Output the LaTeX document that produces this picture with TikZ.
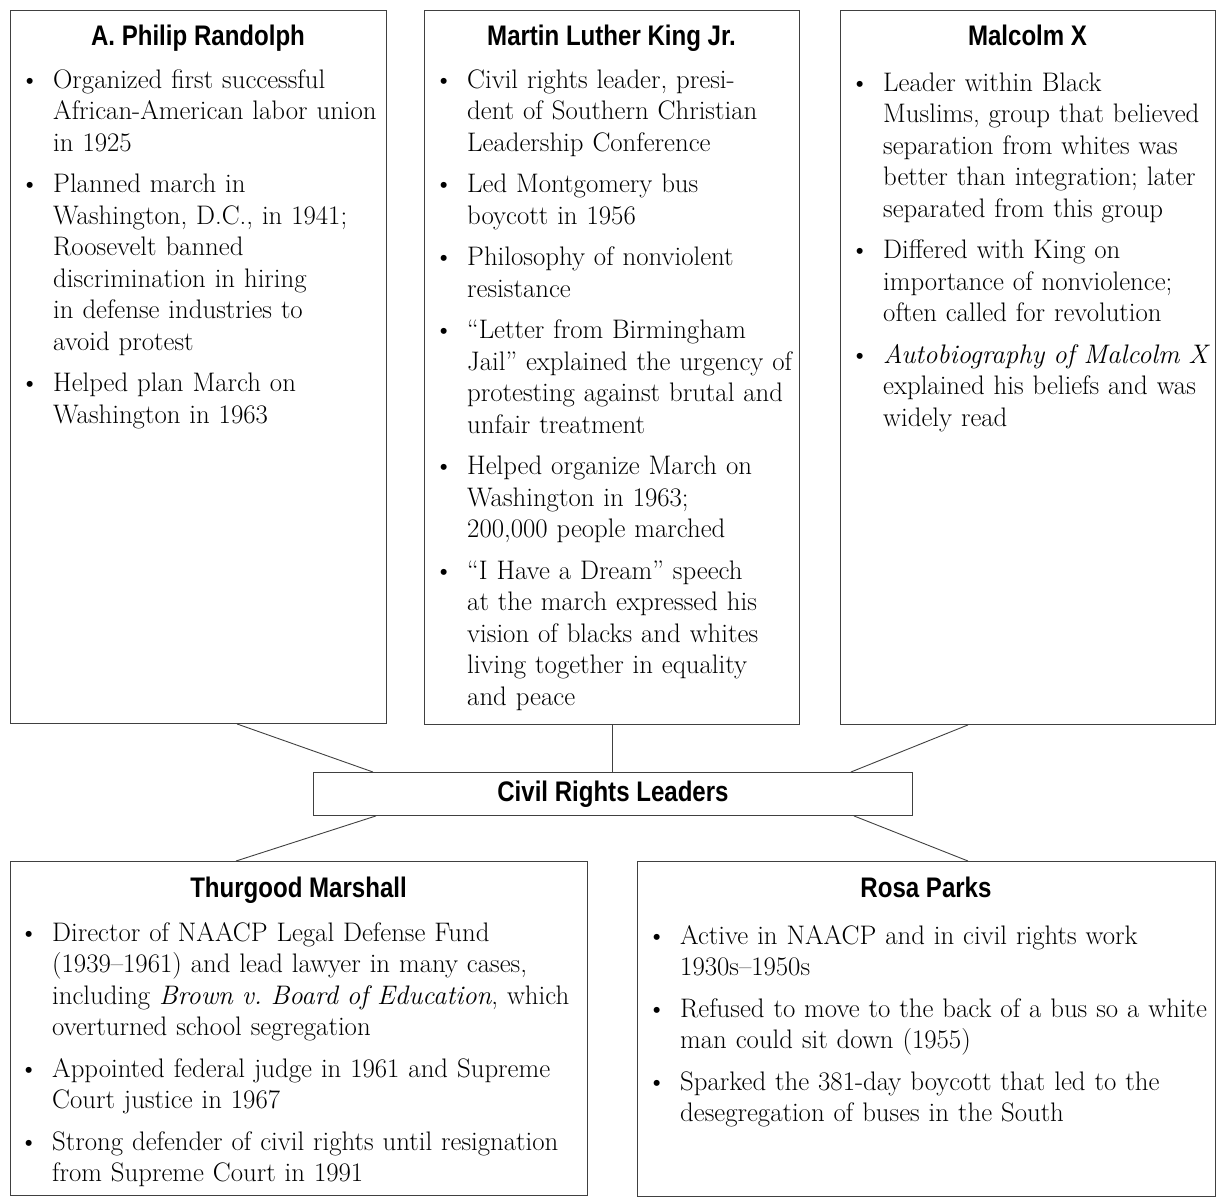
\documentclass[tikz,border=0pt]{standalone}
\usepackage{fontspec}
\newfontfamily\titlefont[FakeStretch=0.85]{Liberation Sans}
\newcommand{\bodyset}{\raggedright\frenchspacing\parskip=10pt\relax}
\newcommand{\nl}{\newline}
\newcommand{\bitem}[1]{\noindent\hangindent=26pt\hangafter=1\makebox[26pt][l]{\hspace{-7pt}\textbullet}#1\par}
\tikzset{
  box/.style={draw=black!75, line width=0.9pt, anchor=north west, inner sep=0pt},
  link/.style={draw=black!75, line width=0.9pt},
  ttl/.style={anchor=base, inner sep=0pt, font=\titlefont\bfseries\fontsize{28.3}{30}\selectfont},
  body/.style={anchor=base west, inner sep=0pt, text width=560pt, font=\fontsize{26.8}{31.5}\selectfont}
}
\begin{document}
\begin{tikzpicture}[x=1pt,y=-1pt]
\useasboundingbox (0,0) rectangle (1225,1203);
% boxes
\node[box, minimum width=376pt, minimum height=713pt] (rand) at (10,10) {};
\node[box, minimum width=375pt, minimum height=714pt] (king) at (424,10) {};
\node[box, minimum width=375pt, minimum height=714pt] (malc) at (840,10) {};
\node[box, minimum width=599pt, minimum height=43pt, font=\titlefont\bfseries\fontsize{28.3}{30}\selectfont] (crl) at (313,772) {Civil Rights Leaders};
\node[box, minimum width=577pt, minimum height=334pt] (mars) at (10,861) {};
\node[box, minimum width=578pt, minimum height=335pt] (park) at (637,861) {};
% titles
\node[ttl] (randt) at (198,45) {A. Philip Randolph};
\node[ttl] (kingt) at (611.5,45) {Martin Luther King Jr.};
\node[ttl] (malct) at (1027.5,45) {Malcolm X};
\node[ttl] (marst) at (298.5,897) {Thurgood Marshall};
\node[ttl] (parkt) at (926,897) {Rosa Parks};
% bodies
\node[body] (randb) at (27,88) {\bodyset
\bitem{Organized first successful\nl African-American labor union\nl in 1925}
\bitem{Planned march in\nl Washington, D.C., in 1941;\nl Roosevelt banned\nl discrimination in hiring\nl in defense industries to\nl avoid protest}
\bitem{Helped plan March on\nl Washington in 1963}};
\node[body] (kingb) at (441,88) {\bodyset
\bitem{Civil rights leader, presi-\nl dent of Southern Christian\nl Leadership Conference}
\bitem{Led Montgomery bus\nl boycott in 1956}
\bitem{Philosophy of nonviolent\nl resistance}
\bitem{“Letter from Birmingham\nl Jail” explained the urgency of\nl protesting against brutal and\nl unfair treatment}
\bitem{Helped organize March on\nl Washington in 1963;\nl 200,000 people marched}
\bitem{“I Have a Dream” speech\nl at the march expressed his\nl vision of blacks and whites\nl living together in equality\nl and peace}};
\node[body] (malcb) at (857,91) {\bodyset
\bitem{Leader within Black\nl Muslims, group that believed\nl separation from whites was\nl better than integration; later\nl separated from this group}
\bitem{Differed with King on\nl importance of nonviolence;\nl often called for revolution}
\bitem{\textit{Autobiography of Malcolm X}\nl explained his beliefs and was\nl widely read}};
\node[body] (marsb) at (26,941) {\bodyset
\bitem{Director of NAACP Legal Defense Fund\nl (1939–1961) and lead lawyer in many cases,\nl including \textit{Brown v. Board of Education}, which\nl overturned school segregation}
\bitem{Appointed federal judge in 1961 and Supreme\nl Court justice in 1967}
\bitem{Strong defender of civil rights until resignation\nl from Supreme Court in 1991}};
\node[body] (parkb) at (654,944) {\bodyset
\bitem{Active in NAACP and in civil rights work\nl 1930s–1950s}
\bitem{Refused to move to the back of a bus so a white\nl man could sit down (1955)}
\bitem{Sparked the 381-day boycott that led to the\nl desegregation of buses in the South}};
% connectors
\draw[link] ([xshift=-150pt]rand.south east) -- ([xshift=60pt]crl.north west);
\draw[link] (king.south) -- (king.south |- crl.north);
\draw[link] ([xshift=128pt]malc.south west) -- ([xshift=-62pt]crl.north east);
\draw[link] ([xshift=63pt]crl.south west) -- ([xshift=226pt]mars.north west);
\draw[link] ([xshift=-59pt]crl.south east) -- ([xshift=331pt]park.north west);
\end{tikzpicture}
\end{document}
